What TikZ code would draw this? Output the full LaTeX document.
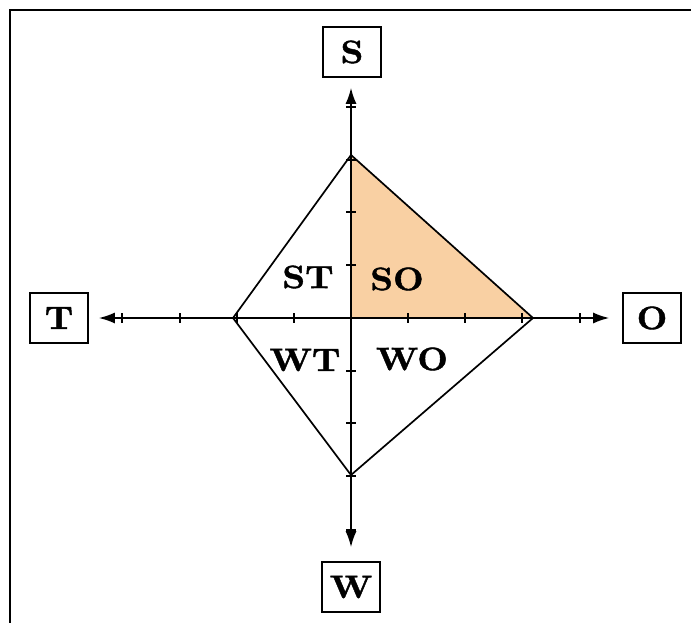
\documentclass[tikz,border=0pt]{standalone}
\usepackage{fontspec}
\newfontfamily\heavy{lmroman10-bold.otf}[FakeBold=1.2]
\usetikzlibrary{arrows.meta}
\definecolor{sofill}{RGB}{249,208,163}
\newcommand{\wide}[1]{\scalebox{1.1}[1]{#1}}
\tikzset{
  lbl/.style={font=\fontsize{32.5}{38}\selectfont\heavy, inner sep=0pt},
  boxnode/.style={draw, line width=1.6bp, minimum width=58bp, minimum height=50bp, inner sep=0pt, font=\fontsize{32.5}{38}\selectfont\heavy},
  axis/.style={line width=1.8bp, -{Latex[length=16bp,width=11bp]}},
  tick/.style={line width=1.5bp},
  edge/.style={line width=1.7bp, line join=miter},
}
\begin{document}
\begin{tikzpicture}[x=1bp,y=-1bp]
\useasboundingbox (0,0) rectangle (691,623);
\draw[line width=2bp] (10,623) -- (10,10) -- (691,10);
% coordinates
\coordinate (c) at (351,318);
\coordinate (vt) at (351,155);
\coordinate (vl) at (233,318);
\coordinate (vb) at (351,475);
\coordinate (vr) at (533,318);
% fill
\fill[sofill] (vt) -- (vr) -- (c) -- cycle;
% boxes
\node[boxnode] (S) at (352,52) {\wide{S}};
\node[boxnode] (T) at (59,318) {\wide{T}};
\node[boxnode] (O) at (652,318) {\wide{O}};
\node[boxnode] (W) at (351,587) {\wide{W}};
% axes
\draw[axis, shorten >=10bp] (c) -- (T);
\draw[axis, shorten >=13bp] (c) -- (O);
\draw[axis, shorten >=10bp] (c) -- (S.south -| c);
\draw[axis, shorten >=14bp] (c) -- (W.north -| c);
% ticks
\foreach \x in {122,180,237,294,408,465,522,580}
  \draw[tick] (\x,313) -- (\x,323);
\foreach \y in {107,160,212,265,371,423,476,530}
  \draw[tick] (346,\y) -- (356,\y);
% diamond
\draw[edge] (vt) -- (vl) -- (vb) -- (vr) -- cycle;
% labels
\node[lbl] (st) at (308,277) {\wide{ST}};
\node[lbl] (so) at (397,279) {\wide{SO}};
\node[lbl] (wt) at (305,360) {\wide{WT}};
\node[lbl] (wo) at (412,359) {\wide{WO}};
\end{tikzpicture}
\end{document}
